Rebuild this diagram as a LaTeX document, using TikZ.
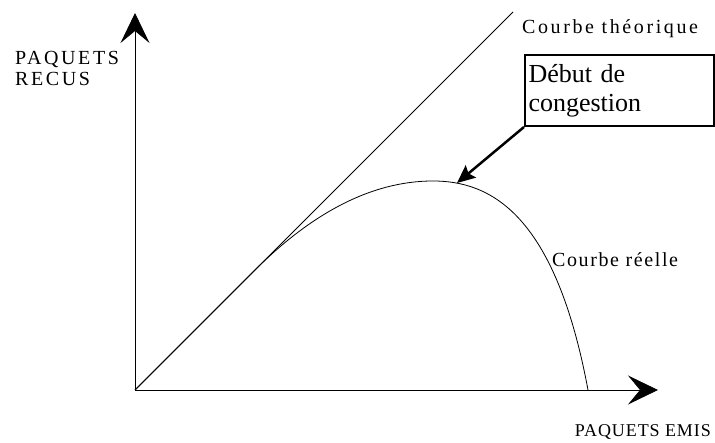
\documentclass[tikz,border=0pt]{standalone}
\usepackage{fontspec}
\setmainfont{LiberationSerif}[Extension=.ttf,UprightFont=*-Regular,
  BoldFont=*-Bold,ItalicFont=*-Italic,BoldItalicFont=*-BoldItalic]
\usetikzlibrary{arrows.meta}

\begin{document}
\begin{tikzpicture}[x=1pt,y=1pt,
  axis/.style={-{Stealth[length=30pt,width=29pt,inset=12pt]},line width=0.8pt},
  curve/.style={line width=0.8pt},
  lbl/.style={inner sep=0pt,font=\fontsize{20}{21}\selectfont\addfontfeature{LetterSpace=#1}},
  lbl/.default=13,
  box/.style={draw,line width=2pt,minimum width=189pt,minimum height=71pt,
    anchor=south west,inner sep=0pt,text width=182pt,align=left,
    font=\fontsize{26}{29}\selectfont},
  pointer/.style={-{Stealth[length=18pt,width=16pt,inset=3pt]},line width=2.5pt}]

  \useasboundingbox (0,0) rectangle (715,443);

  % axes
  \coordinate (O) at (135,53);
  \coordinate (ytip) at (135,430);
  \coordinate (xtip) at (658,53);
  \draw[axis] (O) -- (ytip);
  \draw[axis] (O) -- (xtip);

  % courbe theorique
  \coordinate (theo) at (513,431);
  \draw[curve] (O) -- (theo);

  % courbe reelle
  \coordinate (split) at (255,173);
  \coordinate (peak) at (433,262);
  \coordinate (drop) at (588,53);
  \draw[curve] (O) -- (split) .. controls (310,228) and (370,262) .. (peak)
    .. controls (490,262) and (555,230) .. (drop);

  % congestion
  \node[box] (debut) at (524,316) {Début de\\congestion};
  \coordinate (onset) at (457,260);
  \draw[pointer] (debut.south west) -- (onset);

  % labels
  \node[lbl,anchor=north west,align=left] (recus) at (15,392) {PAQUETS\\RECUS};
  \node[lbl,anchor=base west] (theolbl) at (522,409) {Courbe théorique};
  \node[lbl=8,anchor=base west] (reelle) at (552,176) {Courbe réelle};
  \node[lbl,anchor=base east,font=\fontsize{18}{21}\selectfont\addfontfeature{LetterSpace=5}]
    (emis) at (711,6) {PAQUETS EMIS};
\end{tikzpicture}
\end{document}
